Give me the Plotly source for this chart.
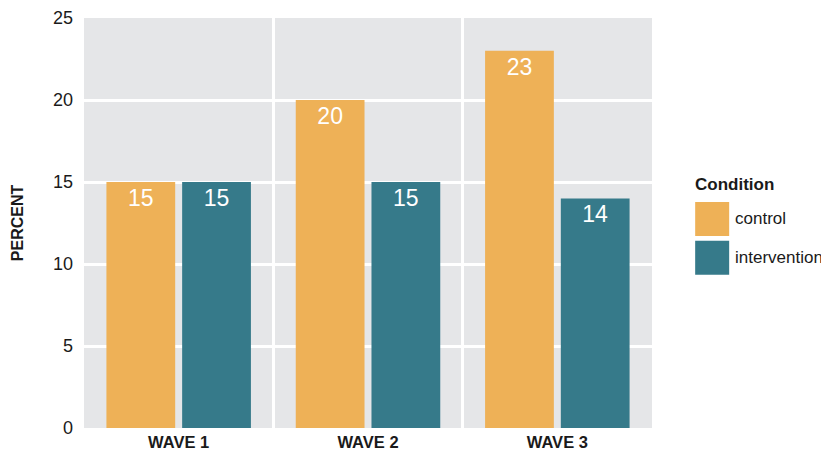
import plotly.graph_objects as go

waves = ["WAVE 1", "WAVE 2", "WAVE 3"]
control = [15, 20, 23]
intervention = [15, 15, 14]
series_names = ["control", "intervention"]
colors = ["#EEB157", "#367A8A"]
y_ticks = [0, 5, 10, 15, 20, 25]

FONT = "Liberation Sans, Arial, sans-serif"
DARK = "#1a1a1a"

fig = go.Figure()
for name, vals, col in zip(series_names, [control, intervention], colors):
    fig.add_trace(go.Bar(
        x=waves, y=vals, name=name, marker=dict(color=col, line=dict(width=0)),
        text=[str(v) for v in vals], textposition="inside", insidetextanchor="end",
        textfont=dict(color="white", size=23, family=FONT), showlegend=False,
        textangle=0,
    ))

fig.update_layout(
    width=821, height=444,
    margin=dict(l=76, r=177, t=10, b=24),
    paper_bgcolor="white", plot_bgcolor="#E5E6E8",
    barmode="group", bargap=0.2, bargroupgap=0.092,
    font=dict(family=FONT, color=DARK),
    uniformtext=dict(minsize=8, mode="show"),
)
fig.update_xaxes(
    type="category", tickson="boundaries", ticks="", showgrid=True,
    gridcolor="white", gridwidth=2.5, range=[-0.5, 2.5], automargin=False,
    tickfont=dict(size=16.5, family=FONT, color=DARK), ticklabelstandoff=2,
    tickprefix="<b>", ticksuffix="</b>", showline=False, zeroline=False,
)
fig.update_yaxes(
    range=[0, 25], tickvals=y_ticks, showgrid=True, gridcolor="white", gridwidth=2.5,
    zeroline=False, ticks="", ticklen=0, automargin=False, ticklabelstandoff=10,
    tickfont=dict(size=18, color=DARK),
)

# y axis title
fig.add_annotation(xref="paper", yref="paper", x=-0.118, y=0.502, xanchor="center", yanchor="middle",
                   text="<b>PERCENT</b>", textangle=-90, showarrow=False,
                   font=dict(size=16, color=DARK))

# custom legend
fig.add_annotation(xref="paper", yref="paper", x=1.072, y=0.595, xanchor="left", yanchor="middle",
                   text="<b>Condition</b>", showarrow=False, font=dict(size=17, color=DARK))
legend_y = [0.51, 0.415]
for name, col, ly in zip(series_names, colors, legend_y):
    fig.add_shape(type="rect", xref="paper", yref="paper",
                  x0=1.076, x1=1.076 + 34 / 568, y0=ly - 17 / 410, y1=ly + 17 / 410,
                  fillcolor=col, line=dict(width=0))
    fig.add_annotation(xref="paper", yref="paper", x=1.076 + 38 / 568, y=ly, xanchor="left",
                       yanchor="middle", text=name, showarrow=False,
                       font=dict(size=17, color=DARK))

fig.write_html("out.html")
